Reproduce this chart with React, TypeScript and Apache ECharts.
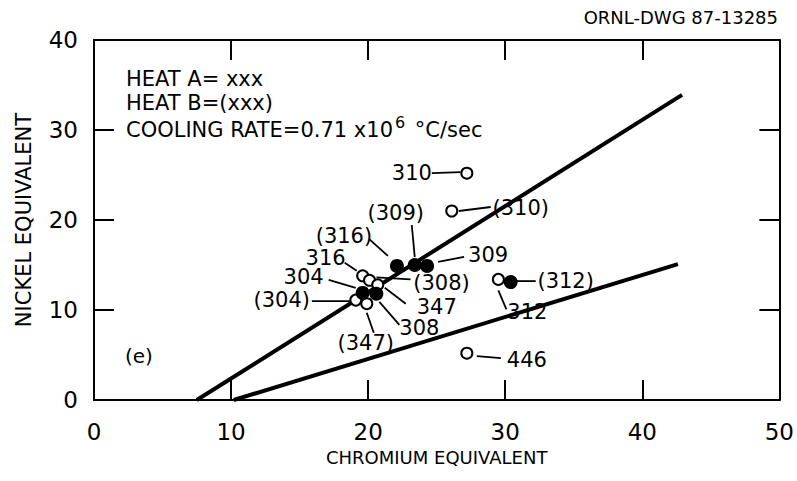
import React, { useEffect, useRef } from "react";
import * as echarts from "echarts";

// ---- data ----
const openLabels = ["310", "(310)", "316", "(308)", "347", "(304)", "(347)", "312", "446"];
const openCr = [27.2, 26.1, 19.6, 20.1, 20.7, 19.1, 19.9, 29.5, 27.2];
const openNi = [25.2, 21.0, 13.8, 13.3, 12.8, 11.1, 10.7, 13.4, 5.2];

const filledLabels = ["(316)", "(309)", "309", "304", "308", "(312)"];
const filledCr = [22.1, 23.4, 24.3, 19.6, 20.6, 30.4];
const filledNi = [14.9, 15.0, 14.9, 11.9, 11.8, 13.1];

const upperBoundary = [[7.5, 0], [42.9, 33.9]];
const lowerBoundary = [[10.2, 0], [42.6, 15.1]];

const xTicks = [0, 10, 20, 30, 40, 50];
const yTicks = [0, 10, 20, 30, 40];

// label placement (pixel offsets from the marker): label centre, leader start, leader end
const labelLayout: Record<string, number[]> = {
  "310": [-55, 0, -35, 0, -6, -1],
  "(310)": [69, -3, 7, 0, 39, -4],
  "(309)": [-19, -52, -3, -40, 0, -8],
  "(316)": [-53, -30, -28, -27, -9, -10],
  "309": [61, -11, 11, -4, 37, -9],
  "316": [-37, -18, -18, -13, -6, -5],
  "(308)": [72, 3, 7, -3, 41, -1],
  "347": [59, 22, 7, 3, 28, 19],
  "304": [-59, -16, -34, -13, -7, -5],
  "308": [43, 34, 3, 8, 23, 31],
  "(304)": [-74, 0, -44, 1, -6, 1],
  "(347)": [-1, 39, 0, 9, 7, 29],
  "312": [29, 33, 0, 11, 8, 30],
  "(312)": [55, -1, 6, -1, 25, -1],
  "446": [60, 7, 10, 3, 34, 5],
};

const FONT = "'DejaVu Sans', 'Liberation Sans', Arial, sans-serif";

export default function App() {
  const ref = useRef<HTMLDivElement>(null);
  useEffect(() => {
    document.body.style.margin = "0";
    if (!ref.current) return;
    const chart = echarts.init(ref.current, undefined, { renderer: "svg" });

    const annLabels = [...openLabels, ...filledLabels];
    const annData = [
      ...openCr.map((c, i) => [c, openNi[i]]),
      ...filledCr.map((c, i) => [c, filledNi[i]]),
    ];

    const axisLine = { show: true, onZero: false, lineStyle: { color: "#000", width: 2 } };
    const axisTick = { show: true, inside: true, length: 20, lineStyle: { color: "#000", width: 2 } };

    chart.setOption({
      animation: false,
      backgroundColor: "#fff",
      grid: { left: 94, right: 17, top: 40, bottom: 81 },
      xAxis: [
        {
          type: "value",
          min: xTicks[0],
          max: xTicks[xTicks.length - 1],
          interval: 10,
          position: "bottom",
          axisLine,
          axisTick,
          splitLine: { show: false },
          axisLabel: { fontSize: 23, color: "#000", margin: 20, fontFamily: FONT },
          name: "CHROMIUM EQUIVALENT",
          nameLocation: "middle",
          nameGap: 48,
          nameTextStyle: { fontSize: 18, color: "#000", fontFamily: FONT },
        },
        {
          type: "value",
          min: xTicks[0],
          max: xTicks[xTicks.length - 1],
          interval: 10,
          position: "top",
          axisLine,
          axisTick,
          splitLine: { show: false },
          axisLabel: { show: false },
        },
      ],
      yAxis: [
        {
          type: "value",
          min: yTicks[0],
          max: yTicks[yTicks.length - 1],
          interval: 10,
          position: "left",
          axisLine,
          axisTick,
          splitLine: { show: false },
          axisLabel: { fontSize: 23, color: "#000", margin: 16, fontFamily: FONT },
          name: "NICKEL EQUIVALENT",
          nameLocation: "middle",
          nameGap: 60,
          nameRotate: 90,
          nameTextStyle: { fontSize: 21, color: "#000", fontFamily: FONT },
        },
        {
          type: "value",
          min: yTicks[0],
          max: yTicks[yTicks.length - 1],
          interval: 10,
          position: "right",
          axisLine,
          axisTick,
          splitLine: { show: false },
          axisLabel: { show: false },
        },
      ],
      graphic: [
        { type: "text", right: 19, top: 8, style: { text: "ORNL-DWG 87-13285", font: `18px ${FONT}`, fill: "#000" } },
        { type: "text", left: 126, top: 68, style: { text: "HEAT A= xxx", font: `21px ${FONT}`, fill: "#000" } },
        { type: "text", left: 126, top: 92, style: { text: "HEAT B=(xxx)", font: `21px ${FONT}`, fill: "#000" } },
        {
          type: "text",
          left: 126,
          top: 114,
          style: {
            text: "{a|COOLING RATE=0.71 x10}{s|6}{a| °C/sec}",
            fill: "#000",
            rich: {
              a: { fontSize: 21, fontFamily: FONT, fill: "#000", color: "#000" },
              s: { fontSize: 16, fontFamily: FONT, fill: "#000", color: "#000", padding: [0, 3, 16, 2] },
            },
          },
        },
        { type: "text", left: 125, top: 346, style: { text: "(e)", font: `20px ${FONT}`, fill: "#000" } },
      ],
      series: [
        {
          type: "line",
          data: upperBoundary,
          symbol: "none",
          lineStyle: { color: "#000", width: 4 },
          z: 2,
        },
        {
          type: "line",
          data: lowerBoundary,
          symbol: "none",
          lineStyle: { color: "#000", width: 4 },
          z: 2,
        },
        {
          type: "custom",
          data: annData,
          z: 3,
          renderItem: (params: any, api: any) => {
            const p = api.coord([api.value(0), api.value(1)]);
            const name = annLabels[params.dataIndex];
            const l = labelLayout[name];
            return {
              type: "group",
              children: [
                {
                  type: "line",
                  shape: { x1: p[0] + l[2], y1: p[1] + l[3], x2: p[0] + l[4], y2: p[1] + l[5] },
                  style: { stroke: "#000", lineWidth: 1.8 },
                },
                {
                  type: "text",
                  style: {
                    text: name,
                    x: p[0] + l[0],
                    y: p[1] + l[1],
                    align: "center",
                    verticalAlign: "middle",
                    textAlign: "center",
                    textVerticalAlign: "middle",
                    font: `21px ${FONT}`,
                    fill: "#000",
                  },
                },
              ],
            };
          },
        },
        {
          type: "scatter",
          name: "open",
          data: openCr.map((c, i) => [c, openNi[i]]),
          symbol: "circle",
          symbolSize: 11,
          itemStyle: { color: "#fff", borderColor: "#000", borderWidth: 2, opacity: 1 },
          z: 5,
        },
        {
          type: "scatter",
          name: "filled",
          data: filledCr.map((c, i) => [c, filledNi[i]]),
          symbol: "circle",
          symbolSize: 14,
          itemStyle: { color: "#000", borderColor: "#000", borderWidth: 0, opacity: 1 },
          z: 6,
        },
      ],
    });
    return () => chart.dispose();
  }, []);
  return <div ref={ref} style={{ width: 797, height: 481 }} />;
}
